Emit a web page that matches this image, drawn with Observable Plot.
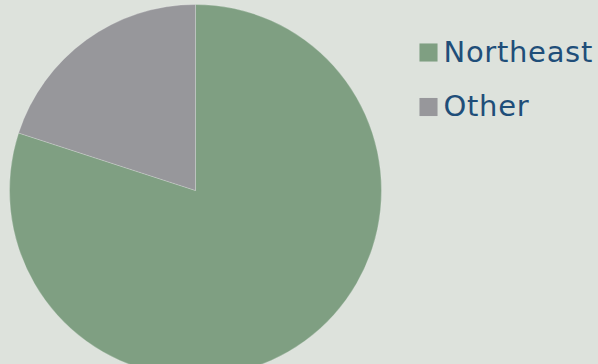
<!DOCTYPE html>
<html>
<head>
<meta charset="utf-8">
<script src="https://cdn.jsdelivr.net/npm/d3@7"></script>
<script src="https://cdn.jsdelivr.net/npm/@observablehq/plot@0.6"></script>
<style>
  html, body { margin: 0; padding: 0; background: #dde2dc; overflow: hidden; }
  #chart svg { display: block; }
</style>
</head>
<body>
<div id="chart"></div>
<script>
const categories = ["Northeast", "Other"];
const shares = [80, 20];
const colors = ["#7f9f82", "#97979b"];

const data = categories.map((c, i) => ({category: c, value: shares[i]}));
const arcs = d3.pie().sort(null).value(d => d.value)(data);

const W = 598, H = 364;
const cx = 195.5, cy = 190.5, R = 186;
const legendX = 428, legendY0 = 52, legendStep = 54.5, labelX = 443;

const chart = Plot.plot({
  width: W, height: H, margin: 0,
  x: {domain: [0, W], range: [0, W], axis: null},
  y: {domain: [0, H], range: [0, H], axis: null},
  color: {domain: categories, range: colors},
  style: {background: "#dde2dc", overflow: "visible"},
  marks: [
    Plot.dot(arcs, {
      x: () => cx, y: () => cy, fill: d => d.data.category,
      render: (index, scales, values) => {
        const x0 = scales.x(cx), y0 = scales.y(cy);
        const r = scales.x(cx + R) - x0;
        const arc = d3.arc().innerRadius(0).outerRadius(r);
        const g = d3.create("svg:g").attr("transform", `translate(${x0},${y0})`);
        g.selectAll("path").data(index).join("path")
          .attr("d", i => arc(arcs[i]))
          .attr("fill", i => values.fill[i])
          .attr("stroke", "rgba(255,255,255,0.35)")
          .attr("stroke-width", 0.6);
        return g.node();
      }
    }),
    Plot.dot(categories, {
      x: () => legendX, y: (d, i) => legendY0 + i * legendStep,
      fill: d => d, symbol: "square", r: 10.2
    }),
    Plot.text(categories, {
      x: () => labelX, y: (d, i) => legendY0 + i * legendStep,
      text: d => d, textAnchor: "start", lineAnchor: "middle",
      fontSize: 29, fill: "#1f4e79", fontFamily: "'DejaVu Sans', sans-serif",
      style: "letter-spacing: 0.7px"
    })
  ]
});
chart.querySelectorAll("text").forEach(t => t.style.letterSpacing = "0.7px");
document.getElementById("chart").append(chart);
</script>
</body>
</html>
